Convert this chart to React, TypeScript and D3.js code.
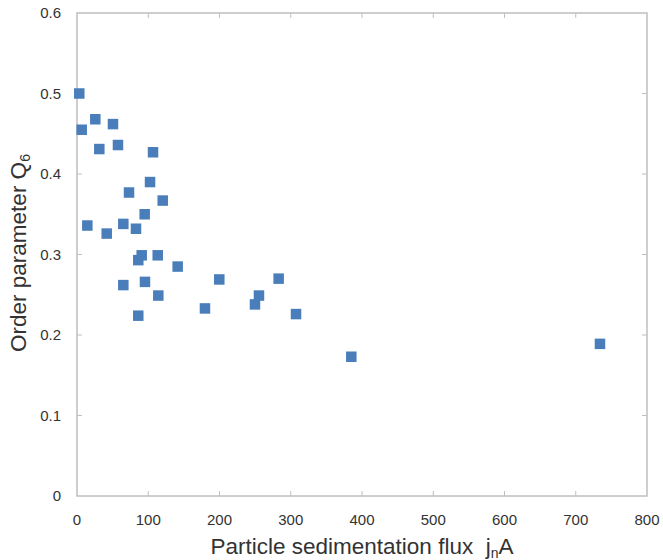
import React from 'react';
import * as d3 from 'd3';

// sedimentation flux j_n A (x) and order parameter Q6 (y)
const fluxValues = [3.2, 6.6, 25.7, 50.5, 31.3, 57.5, 106.7, 102.5, 120.3, 73, 95, 14.5, 41.7, 65, 82.8, 90.8, 86, 113.3, 141.3, 65, 95.4, 114.1, 86, 199.7, 283, 179.6, 255.4, 249.8, 307.4, 385, 734];
const q6Values = [0.5, 0.455, 0.468, 0.462, 0.431, 0.436, 0.427, 0.39, 0.367, 0.377, 0.35, 0.336, 0.326, 0.338, 0.332, 0.299, 0.293, 0.299, 0.285, 0.262, 0.266, 0.249, 0.224, 0.269, 0.27, 0.233, 0.249, 0.238, 0.226, 0.173, 0.189];
const xTicks = [0, 100, 200, 300, 400, 500, 600, 700, 800];
const yTicks = [0, 0.1, 0.2, 0.3, 0.4, 0.5, 0.6];

const W = 663;
const H = 560;
const left = 77, right = 647, top = 13, bottom = 496;
const font = '"Liberation Sans", Arial, sans-serif';

export default function App() {
  const x = d3.scaleLinear().domain([0, 800]).range([left, right]);
  const y = d3.scaleLinear().domain([0, 0.6]).range([bottom, top]);
  const points = fluxValues.map((v, i) => ({ fx: v, q: q6Values[i] }));
  const sz = 10.5;
  const frame = '#bfbfbf';
  const ink = '#333';

  return (
    <svg width={W} height={H} style={{ position: 'absolute', left: 0, top: 0, background: '#fff' }}>
      {/* frame */}
      <rect x={left} y={top} width={right - left} height={bottom - top} fill="none" stroke={frame} strokeWidth={1.5} />
      {/* ticks, inside */}
      {xTicks.slice(1, -1).map(t => (
        <g key={'xt' + t}>
          <line x1={x(t)} x2={x(t)} y1={bottom} y2={bottom - 5} stroke={frame} />
          <line x1={x(t)} x2={x(t)} y1={top} y2={top + 5} stroke={frame} />
        </g>
      ))}
      {yTicks.slice(1, -1).map(t => (
        <g key={'yt' + t}>
          <line x1={left} x2={left + 5} y1={y(t)} y2={y(t)} stroke={frame} />
          <line x1={right} x2={right - 5} y1={y(t)} y2={y(t)} stroke={frame} />
        </g>
      ))}
      {/* tick labels */}
      {xTicks.map(t => (
        <text key={'xl' + t} x={x(t)} y={525} textAnchor="middle" fontFamily={font} fontSize={15} fill={ink}>
          {t}
        </text>
      ))}
      {yTicks.map(t => (
        <text key={'yl' + t} x={61} y={y(t) + 5} textAnchor="end" fontFamily={font} fontSize={15} fill={ink}>
          {t === 0 ? '0' : d3.format('.1f')(t)}
        </text>
      ))}
      {/* markers */}
      {points.map((p, i) => (
        <rect key={i} x={x(p.fx) - sz / 2} y={y(p.q) - sz / 2} width={sz} height={sz} fill="#4a7ebb" />
      ))}
      {/* axis titles */}
      <text x={362} y={554} textAnchor="middle" fontFamily={font} fontSize={22.5} fill={ink}>
        {'Particle sedimentation flux\u00a0 j'}<tspan fontSize={14} dy={4}>n</tspan><tspan dy={-4}>A</tspan>
      </text>
      <text transform="translate(26,253) rotate(-90)" textAnchor="middle" fontFamily={font} fontSize={22.5} fill={ink}>
        Order parameter Q<tspan fontSize={14} dy={4}>6</tspan>
      </text>
    </svg>
  );
}
